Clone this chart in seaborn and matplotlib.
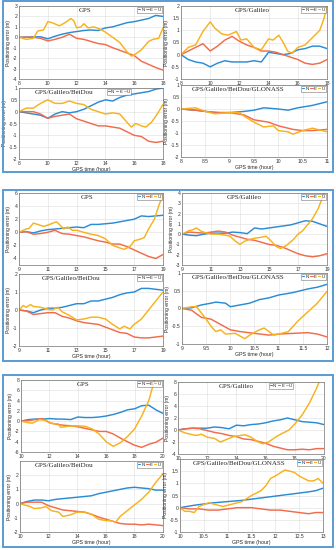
import numpy as np
import matplotlib
matplotlib.use('Agg')
import matplotlib.pyplot as plt
import matplotlib.patches as mpatches
from matplotlib.ticker import FuncFormatter
import seaborn as sns

# ── Data (metres) ─────────────────────────────────────────────────
# block 1 : 8-18 h, GLONASS 8-11 h
t_b1 = [8, 8.5, 9, 9.5, 10, 10.5, 11, 11.5, 12, 12.5, 13, 13.5, 14, 14.5,
        15, 15.5, 16, 16.5, 17, 17.5, 18]
b1_gps_n = [0, 0.02, 0.03, 0.05, -0.15, 0.1, 0.3, 0.45, 0.55, 0.65, 0.7, 0.65,
            0.9, 1.0, 1.2, 1.4, 1.5, 1.65, 1.8, 2.1, 2.0]
b1_gps_e = [0, 0, 0, -0.1, -0.35, -0.2, 0.0, 0.3, -0.1, -0.2, -0.4, -0.6, -0.7,
            -1.0, -1.25, -1.5, -1.75, -2.3, -2.6, -2.9, -3.15]
b1_gps_u_t = [8, 8.5, 9, 9.3, 9.7, 10, 10.3, 10.8, 11.2, 11.6, 11.8, 12, 12.3,
              12.5, 12.8, 13.2, 13.6, 14, 14.5, 15, 15.5, 15.8, 16, 16.5, 17,
              17.3, 17.7, 18]
b1_gps_u = [0, -0.2, -0.1, 0.6, 0.7, 1.5, 1.4, 1.1, 1.4, 1.8, 1.6, 0.9, 1.0, 1.3,
            0.9, 1.0, 0.8, 0.5, 0.0, -0.5, -1.4, -1.8, -1.7, -1.2, -0.4, -0.2,
            -0.1, 0.9]

b1_gal_n = [0, -0.2, -0.3, -0.35, -0.5, -0.35, -0.25, -0.3, -0.3, -0.3, -0.25,
            -0.3, 0.1, 0.05, 0.0, 0.05, 0.2, 0.25, 0.35, 0.35, 0.25]
b1_gal_e = [0, 0.15, 0.3, 0.45, 0.15, 0.35, 0.6, 0.75, 0.55, 0.4, 0.3, 0.15,
            0.15, 0.1, 0.0, -0.1, -0.2, -0.35, -0.4, -0.35, -0.2]
b1_gal_u_t = [8, 8.5, 9, 9.5, 10, 10.3, 10.8, 11.2, 11.8, 12.1, 12.5, 13, 13.5,
              14, 14.3, 14.7, 15, 15.3, 15.6, 16, 16.5, 17, 17.5, 17.8, 18]
b1_gal_u = [0, 0.3, 0.4, 0.95, 1.35, 1.1, 0.85, 0.8, 0.95, 0.6, 0.65, 0.3, 0.2,
            0.65, 0.6, 0.8, 0.5, 0.15, 0.05, 0.3, 0.4, 0.7, 1.0, 1.5, 2.0]

b1_bds_n = [0, -0.05, -0.1, -0.15, -0.28, -0.1, 0.0, -0.05, 0.0, 0.1, 0.25, 0.4,
            0.5, 0.45, 0.6, 0.7, 0.75, 0.8, 0.85, 0.95, 1.0]
b1_bds_e = [0, 0, 0, -0.1, -0.28, -0.2, -0.15, -0.1, -0.3, -0.4, -0.5, -0.6,
            -0.6, -0.65, -0.7, -0.85, -1.0, -1.05, -1.25, -1.3, -1.25]
b1_bds_u_t = [8, 8.5, 9, 9.5, 10, 10.5, 11, 11.5, 12, 12.5, 13, 13.5, 14, 14.5,
              15, 15.5, 15.8, 16.1, 16.5, 16.8, 17.2, 17.6, 18]
b1_bds_u = [0, 0.15, 0.15, 0.35, 0.5, 0.35, 0.35, 0.45, 0.35, 0.3, 0.1, 0.0,
            -0.1, -0.05, -0.1, -0.45, -0.65, -0.5, -0.6, -0.65, -0.45, -0.1, 0.3]

b1_glo_n_t = [8, 8.3, 8.5, 8.7, 9, 9.3, 9.5, 9.7, 10, 10.2, 10.4, 10.7, 10.9, 11]
b1_glo_n = [0, -0.05, -0.1, -0.15, -0.15, -0.1, -0.05, 0.05, 0.0, -0.05, 0.05,
            0.15, 0.25, 0.3]
b1_glo_e_t = [8, 8.3, 8.5, 8.8, 9, 9.3, 9.5, 9.8, 10, 10.3, 10.5, 10.7, 11]
b1_glo_e = [0, -0.05, -0.1, -0.15, -0.15, -0.25, -0.45, -0.55, -0.7, -0.85,
            -0.9, -0.9, -0.85]
b1_glo_u_t = [8, 8.3, 8.5, 8.7, 9, 9.2, 9.3, 9.5, 9.7, 9.9, 10, 10.2, 10.3, 10.5,
              10.7, 10.8, 11]
b1_glo_u = [0, 0.05, -0.1, -0.2, -0.15, -0.15, -0.3, -0.55, -0.75, -0.7, -0.9,
            -0.95, -1.05, -0.9, -0.8, -0.85, -0.95]

# block 2 : 9-19 h, GLONASS 9-12 h
t_b2 = [9, 9.5, 10, 10.5, 11, 11.5, 12, 12.5, 13, 13.5, 14, 14.5, 15, 15.5,
        16, 16.5, 17, 17.5, 18, 18.5, 19]
b2_gps_n = [0, 0.1, -0.1, 0.2, 0.4, 0.5, 0.6, 0.7, 0.8, 0.7, 1.2, 1.2, 1.3, 1.4,
            1.6, 1.8, 2.0, 2.5, 2.4, 2.5, 2.6]
b2_gps_e = [0, 0.1, -0.3, -0.2, 0.0, 0.3, -0.2, -0.3, -0.5, -0.7, -1.0, -1.3,
            -1.5, -1.8, -1.8, -2.2, -2.7, -3.2, -3.7, -4.0, -3.4]
b2_gps_u_t = [9, 9.5, 9.7, 10, 10.3, 10.7, 11, 11.6, 11.8, 12.1, 12.4, 12.7, 13,
              13.5, 14, 14.5, 15, 15.5, 16, 16.3, 16.7, 17, 17.5, 17.7, 18, 18.4,
              18.7, 19]
b2_gps_u = [0, 0.5, 0.6, 1.4, 1.2, 0.9, 1.1, 1.6, 1.2, 0.5, 0.8, 0.3, 0.3, 0.0,
            -0.3, -0.5, -1.0, -2.0, -2.4, -2.6, -2.2, -1.3, -1.0, -0.8, 0.5, 2.0,
            4.0, 5.8]

b2_gal_n = [0, -0.1, -0.15, 0.0, 0.1, 0.1, 0.1, 0.2, 0.15, 0.05, 0.6, 0.5, 0.6,
            0.7, 0.8, 0.9, 1.1, 1.3, 1.25, 1.0, 0.75]
b2_gal_e = [0, 0.2, 0.15, 0.1, 0.2, 0.3, 0.2, -0.1, -0.3, -0.5, -0.6, -0.8, -1.0,
            -1.1, -1.3, -1.6, -1.9, -2.1, -2.2, -2.1, -1.9]
b2_gal_u_t = [9, 9.5, 9.7, 10, 10.3, 10.5, 11, 11.5, 12, 12.3, 12.7, 13, 13.3,
              13.7, 14, 14.5, 14.8, 15.1, 15.5, 15.8, 16.2, 16.7, 17, 17.3, 17.6,
              18, 18.4, 18.8, 19]
b2_gal_u = [0, 0.35, 0.4, 0.6, 0.3, 0.2, 0.0, 0.0, -0.1, -0.2, -0.7, -1.0, -0.7,
            -0.5, -0.4, -0.3, -0.2, -0.6, -1.2, -1.4, -1.1, -0.5, 0.0, 0.3, 0.8,
            1.5, 2.5, 4.0, 4.6]

b2_bds_n = [0, -0.05, -0.15, 0.0, 0.1, 0.1, 0.15, 0.25, 0.35, 0.35, 0.5, 0.5,
            0.6, 0.7, 0.85, 0.95, 1.0, 1.2, 1.2, 1.15, 1.1]
b2_bds_e = [0, -0.05, -0.25, -0.2, -0.15, -0.15, -0.35, -0.45, -0.6, -0.7, -0.75,
            -0.8, -0.95, -1.1, -1.25, -1.3, -1.5, -1.55, -1.55, -1.5, -1.45]
b2_bds_u_t = [9, 9.3, 9.5, 9.8, 10, 10.5, 11, 11.3, 11.7, 12, 12.5, 13, 13.5, 14,
              14.5, 15, 15.5, 16, 16.3, 16.7, 17, 17.5, 18, 18.5, 19]
b2_bds_u = [0, 0.25, 0.15, 0.3, 0.2, 0.15, 0.05, 0.0, 0.15, -0.1, -0.3, -0.55,
            -0.5, -0.4, -0.4, -0.5, -0.8, -1.05, -0.9, -1.05, -0.8, -0.5, 0.0,
            0.5, 1.0]

b2_glo_n_t = [9, 9.2, 9.4, 9.6, 9.7, 9.9, 10, 10.2, 10.4, 10.6, 10.8, 11, 11.3,
              11.6, 11.8, 12]
b2_glo_n = [0, 0.02, 0.1, 0.15, 0.18, 0.15, 0.05, 0.1, 0.15, 0.25, 0.3, 0.38,
            0.45, 0.55, 0.6, 0.68]
b2_glo_e_t = [9, 9.2, 9.4, 9.6, 9.8, 10, 10.2, 10.5, 10.8, 11, 11.3, 11.6, 11.8, 12]
b2_glo_e = [0, -0.05, -0.25, -0.3, -0.45, -0.6, -0.65, -0.7, -0.75, -0.72, -0.7,
            -0.68, -0.72, -0.8]
b2_glo_u_t = [9, 9.2, 9.3, 9.5, 9.6, 9.7, 9.8, 9.9, 10.1, 10.3, 10.4, 10.6, 10.7,
              10.9, 11, 11.2, 11.4, 11.6, 11.8, 12]
b2_glo_u = [0, 0.05, 0.05, -0.3, -0.5, -0.65, -0.6, -0.72, -0.7, -0.85, -0.75,
            -0.6, -0.55, -0.75, -0.72, -0.65, -0.35, -0.1, 0.15, 0.48]

# block 3 : 10-20 h, GLONASS 10-13 h
t_b3 = [10, 10.5, 11, 11.5, 12, 12.5, 13, 13.5, 14, 14.5, 15, 15.5, 16, 16.5,
        17, 17.5, 18, 18.5, 19, 19.5, 20]
b3_gps_n = [0, 0.3, 0.4, 0.4, 0.5, 0.4, 0.4, 0.3, 0.8, 0.7, 0.7, 0.8, 1.0, 1.3,
            1.7, 2.2, 2.4, 3.0, 3.1, 2.2, 1.5]
b3_gps_e = [0, 0.1, 0.3, 0.5, -0.3, -0.6, -0.8, -0.9, -1.1, -1.4, -1.7, -2.0,
            -2.0, -2.5, -3.3, -4.0, -4.7, -5.1, -4.5, -4.1, -3.3]
b3_gps_u_t = [10, 10.5, 10.8, 11.3, 11.8, 12.2, 12.6, 12.8, 13.3, 14, 14.5, 15,
              15.5, 16, 16.5, 17, 17.5, 18, 18.5, 19, 19.3, 19.45]
b3_gps_u = [0, -0.3, -0.4, 0.3, 0.1, -0.5, -0.5, -1.2, -1.0, -0.9, -1.0, -1.5,
            -2.5, -4.0, -4.9, -4.2, -3.0, -1.5, 1.0, 4.0, 7.0, 8.2]

b3_gal_n = [0, 0.2, 0.3, 0.3, 0.3, 0.5, 0.4, 0.2, 0.8, 0.7, 0.9, 1.0, 1.2, 1.5,
            1.7, 2.0, 1.7, 1.4, 1.3, 1.2, 0.9]
b3_gal_e = [0, 0.2, 0.3, 0.2, -0.1, -0.4, -0.6, -0.9, -1.1, -1.5, -1.6, -1.9,
            -2.2, -2.7, -3.0, -3.3, -3.3, -3.2, -3.3, -3.1, -3.1]
b3_gal_u_t = [10, 10.5, 11, 11.3, 11.6, 12, 12.5, 12.9, 13.3, 13.8, 14.3, 14.6,
              15, 15.5, 15.8, 16.2, 16.8, 17.2, 17.6, 18, 18.5, 19, 19.5, 19.7]
b3_gal_u = [0, -0.5, -0.8, -0.9, -0.7, -1.2, -1.4, -2.0, -1.6, -1.1, -0.9, -0.8,
            -1.2, -2.0, -2.3, -2.0, -1.0, -0.5, 0.0, 1.0, 2.5, 4.5, 7.0, 8.2]

b3_bds_n = [0, 0.15, 0.25, 0.25, 0.2, 0.3, 0.35, 0.4, 0.45, 0.5, 0.55, 0.7, 0.8,
            0.9, 1.0, 1.1, 1.15, 1.1, 1.05, 0.95, 0.95]
b3_bds_e = [0, 0.1, 0.1, 0.1, -0.15, -0.3, -0.45, -0.5, -0.55, -0.6, -0.75,
            -0.95, -1.1, -1.25, -1.4, -1.45, -1.45, -1.5, -1.45, -1.5, -1.55]
b3_bds_u_t = [10, 10.3, 10.7, 11, 11.5, 11.8, 12.2, 12.7, 13, 13.5, 14, 14.5, 15,
              15.5, 16, 16.3, 16.7, 17, 17.5, 18, 18.5, 19, 19.5, 20]
b3_bds_u = [0, -0.1, -0.2, -0.35, -0.3, -0.2, -0.5, -0.6, -0.9, -0.8, -0.6, -0.6,
            -0.75, -1.1, -1.2, -1.2, -1.3, -0.9, -0.5, -0.1, 0.3, 0.8, 1.5, 2.1]

b3_glo_n_t = [10, 10.3, 10.5, 10.7, 11, 11.3, 11.5, 11.7, 11.9, 12.1, 12.3, 12.5,
              12.7, 12.85, 13]
b3_glo_n = [0, 0.1, 0.15, 0.2, 0.25, 0.3, 0.35, 0.4, 0.45, 0.5, 0.55, 0.6, 0.65,
            0.7, 0.8]
b3_glo_e_t = [10, 10.2, 10.4, 10.6, 10.8, 11, 11.2, 11.5, 11.7, 11.9, 12.1, 12.3,
              12.5, 12.7, 12.85, 13]
b3_glo_e = [0, -0.05, -0.05, -0.1, -0.1, -0.05, 0.0, 0.0, -0.05, -0.1, -0.1,
            -0.15, -0.2, -0.25, -0.2, -0.2]
b3_glo_u_t = [10, 10.1, 10.2, 10.3, 10.4, 10.6, 10.8, 10.9, 11.1, 11.3, 11.5,
              11.7, 11.8, 11.9, 12.0, 12.2, 12.4, 12.5, 12.7, 12.8, 12.9, 13]
b3_glo_u = [0, -0.15, -0.15, -0.2, 0.05, 0.2, 0.1, 0.05, 0.15, 0.25, 0.5, 0.7,
            0.9, 1.2, 1.3, 1.55, 1.45, 1.3, 1.1, 1.1, 1.2, 1.0]

# ── Style ─────────────────────────────────────
sns.set_theme(style='whitegrid')
plt.rcParams['font.family'] = ['Liberation Sans', 'DejaVu Sans']
plt.rcParams['axes.edgecolor'] = '#707070'
plt.rcParams['axes.linewidth'] = 0.5
plt.rcParams['grid.color'] = '#dddddd'
plt.rcParams['grid.linewidth'] = 0.4

C_N, C_E, C_U = '#2b8cd6', '#f26b4b', '#f7b21c'
W, H = 336, 550
fig = plt.figure(figsize=(W / 100, H / 100), dpi=100)
fig.patch.set_facecolor('white')


def rect(x0, y0, x1, y1):
    return [x0 / W, 1 - y1 / H, (x1 - x0) / W, (y1 - y0) / H]


def panel(box, title, n, e, u, xlim, xstep, ylim, yticks,
          title_x=0.5, leg_x=0.99, xlabel=False):
    ax = fig.add_axes(rect(*box))
    for (t, v), c, lab in zip((n, e, u), (C_N, C_E, C_U), 'NEU'):
        sns.lineplot(x=t, y=v, ax=ax, color=c, linewidth=1.05, label=lab)
    ax.set_xlim(*xlim)
    ax.set_ylim(*ylim)
    ax.set_xticks(np.arange(xlim[0], xlim[1] + xstep / 2, xstep))
    y0, y1, ys = yticks
    ax.set_yticks(np.arange(y0, y1 + ys / 2, ys))
    fmt = FuncFormatter(lambda v, p: f'{v:g}')
    ax.xaxis.set_major_formatter(fmt)
    ax.yaxis.set_major_formatter(fmt)
    ax.tick_params(direction='in', length=1.5, width=0.4, pad=1.2,
                   labelsize=3.6, colors='#333333')
    for s in ax.spines.values():
        s.set_visible(True)
    ax.set_ylabel('Positioning error (m)', fontsize=3.6, labelpad=1.5)
    if xlabel:
        ax.set_xlabel('GPS time (hour)', fontsize=3.8, labelpad=1)
    else:
        ax.set_xlabel('')
    ax.text(title_x, 0.975, title, transform=ax.transAxes, ha='center',
            va='top', fontsize=5, family='Liberation Serif')
    leg = ax.legend(loc='upper right', bbox_to_anchor=(leg_x, 0.99), ncol=3,
                    fontsize=3.2, handlelength=0.5, handletextpad=0.2,
                    columnspacing=0.4, borderpad=0.25, frameon=True,
                    fancybox=False, borderaxespad=0)
    leg.get_frame().set_edgecolor('#555555')
    leg.get_frame().set_linewidth(0.4)
    for line in leg.get_lines():
        line.set_linewidth(0.8)
    return ax


# ── Block frames ──────────────────────────────
for fy0, fy1 in [(1, 172), (190, 361), (375, 547)]:
    fig.add_artist(mpatches.Rectangle((3 / W, 1 - fy1 / H), 330 / W, (fy1 - fy0) / H,
                                      transform=fig.transFigure, fill=False,
                                      edgecolor='#5a9bd3', linewidth=1.4))

# ── Block 1 ───────────────────────────────────
panel((19, 6, 163, 79), 'GPS', (t_b1, b1_gps_n), (t_b1, b1_gps_e),
      (b1_gps_u_t, b1_gps_u), (8, 18), 2, (-4, 3), (-4, 3, 1), title_x=0.46)
panel((181, 6, 327, 79), 'GPS/Galileo', (t_b1, b1_gal_n), (t_b1, b1_gal_e),
      (b1_gal_u_t, b1_gal_u), (8, 18), 2, (-1, 2), (-1, 2, 0.5), title_x=0.49)
panel((19, 88, 163, 159), 'GPS/Galileo/BeiDou', (t_b1, b1_bds_n), (t_b1, b1_bds_e),
      (b1_bds_u_t, b1_bds_u), (8, 18), 2, (-2, 1), (-2, 1, 0.5),
      title_x=0.31, leg_x=0.78, xlabel=True)
panel((181, 85, 327, 157), 'GPS/Galileo/BeiDou/GLONASS', (b1_glo_n_t, b1_glo_n),
      (b1_glo_e_t, b1_glo_e), (b1_glo_u_t, b1_glo_u), (8, 11), 0.5, (-2, 1),
      (-2, 1, 0.5), title_x=0.39, xlabel=True)

# ── Block 2 ───────────────────────────────────
panel((19, 193, 163, 265), 'GPS', (t_b2, b2_gps_n), (t_b2, b2_gps_e),
      (b2_gps_u_t, b2_gps_u), (9, 19), 2, (-5, 6), (-4, 6, 2), title_x=0.47)
panel((182, 193, 327, 265), 'GPS/Galileo', (t_b2, b2_gal_n), (t_b2, b2_gal_e),
      (b2_gal_u_t, b2_gal_u), (9, 19), 2, (-3, 4), (-3, 4, 1), title_x=0.43)
panel((19, 274, 163, 346), 'GPS/Galileo/BeiDou', (t_b2, b2_bds_n), (t_b2, b2_bds_e),
      (b2_bds_u_t, b2_bds_u), (9, 19), 2, (-2, 2), (-2, 2, 1),
      title_x=0.36, xlabel=True)
panel((182, 273, 327, 344), 'GPS/Galileo/BeiDou/GLONASS', (b2_glo_n_t, b2_glo_n),
      (b2_glo_e_t, b2_glo_e), (b2_glo_u_t, b2_glo_u), (9, 12), 0.5, (-1, 1),
      (-1, 1, 0.5), title_x=0.39, xlabel=True)

# ── Block 3 ───────────────────────────────────
panel((21, 380, 163, 452), 'GPS', (t_b3, b3_gps_n), (t_b3, b3_gps_e),
      (b3_gps_u_t, b3_gps_u), (10, 20), 2, (-6, 8), (-6, 8, 2), title_x=0.44)
panel((178, 382, 324, 454), 'GPS/Galileo', (t_b3, b3_gal_n), (t_b3, b3_gal_e),
      (b3_gal_u_t, b3_gal_u), (10, 20), 2, (-4, 8), (-4, 8, 2),
      title_x=0.40, leg_x=0.79)
panel((20, 461, 163, 532), 'GPS/Galileo/BeiDou', (t_b3, b3_bds_n), (t_b3, b3_bds_e),
      (b3_bds_u_t, b3_bds_u), (10, 20), 2, (-2, 3), (-2, 2, 1),
      title_x=0.31, xlabel=True)
panel((180, 459, 323, 532), 'GPS/Galileo/BeiDou/GLONASS', (b3_glo_n_t, b3_glo_n),
      (b3_glo_e_t, b3_glo_e), (b3_glo_u_t, b3_glo_u), (10, 13), 0.5, (-1, 2),
      (-1, 1.5, 0.5), title_x=0.41, xlabel=True)

fig.savefig('out.png', dpi=100, facecolor='white')
